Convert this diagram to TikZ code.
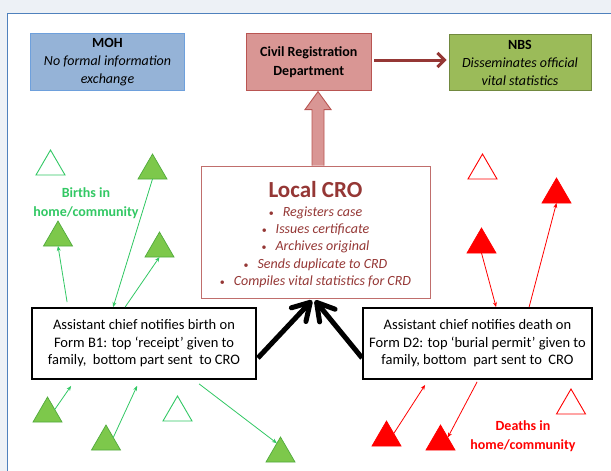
\documentclass[tikz,border=0pt]{standalone}
\usepackage{fontspec}
\setmainfont{Carlito}
\usetikzlibrary{arrows.meta,calc}
\definecolor{bgc}{RGB}{237,241,246}
\definecolor{framec}{RGB}{79,129,189}
\definecolor{mohfill}{RGB}{149,179,215}
\definecolor{mohdraw}{RGB}{110,160,220}
\definecolor{crdfill}{RGB}{217,150,148}
\definecolor{crddraw}{RGB}{185,85,82}
\definecolor{nbsfill}{RGB}{155,187,89}
\definecolor{nbsdraw}{RGB}{113,137,63}
\definecolor{darkred}{RGB}{149,55,53}
\definecolor{crodraw}{RGB}{192,110,108}
\definecolor{grn}{RGB}{50,200,100}
\definecolor{gfill}{RGB}{125,200,75}
\definecolor{gdraw}{RGB}{80,170,60}
\definecolor{rd}{RGB}{255,0,0}
\newcommand{\crobul}{{\fontsize{10}{10}\selectfont\upshape\textbullet}\hspace{9pt}}
\tikzset{
  tri/.pic={\path[pic actions] (-14.5,0) -- (0,-25) -- (14.5,0) -- cycle;
    \coordinate (-b) at (0,0);
    \coordinate (-r) at (7.25,-12.5);
    \coordinate (-ul) at (-3.6,-18.75);},
  gfull/.style={fill=gfill, draw=gdraw, line width=0.7pt},
  gopen/.style={fill=white, draw=grn, line width=0.9pt},
  rfull/.style={fill=rd, draw=rd, line width=0.7pt},
  ropen/.style={fill=white, draw=rd, line width=0.9pt},
  topbox/.style={draw, line width=0.9pt, inner sep=0pt, align=center,
    minimum height=57.4, font=\fontsize{14}{18}\selectfont},
  formbox/.style={draw=black, line width=1.8pt, fill=white, inner sep=0pt, align=center,
    minimum height=71, font=\fontsize{14.5}{17.5}\selectfont},
  garr/.style={draw=grn, line width=0.8pt, -{Stealth[length=5pt,width=4pt]}},
  rarr/.style={draw=rd, line width=0.8pt, -{Stealth[length=5pt,width=4pt]}},
  barr/.style={draw=black, line width=5pt, -{Straight Barb[length=17pt,width=20pt,round]}},
  lbl/.style={align=center, font=\fontsize{14}{19}\selectfont\bfseries},
}
\begin{document}
\begin{tikzpicture}[x=1pt,y=-1pt]
\useasboundingbox (0,0) rectangle (611,471);
\fill[bgc] (0,0) rectangle (611,471);
\fill[white] (7.3,13.5) rectangle (611,471);
\draw[framec, line width=1pt] (7.3,471) -- (7.3,13.5) -- (611,13.5);

% top boxes
\node[topbox, fill=mohfill, draw=mohdraw, minimum width=153.6] (moh) at (107.5,62)
  {\textbf{MOH}\\\textit{No formal information}\\\textit{exchange}};
\node[topbox, fill=crdfill, draw=crddraw, minimum width=125.7, font=\fontsize{14}{18.4}\selectfont\bfseries] (crd) at (308.8,62)
  {Civil Registration\\Department};
\node[topbox, fill=nbsfill, draw=nbsdraw, minimum width=142, minimum height=56.4] (nbs) at (520,62.5)
  {\textbf{NBS}\\\textit{Disseminates official}\\\textit{vital statistics}};
\draw[darkred, line width=3pt, -{Straight Barb[length=7pt,width=14pt]}] ($(crd.east)+(2,-2)$) -- ($(nbs.west)+(-2,-2.5)$);

% local CRO
\node[draw=crodraw, line width=0.9pt, fill=white, minimum width=229, minimum height=132, inner sep=0pt,
  align=center, text=darkred, font=\fontsize{14}{17.4}\selectfont\itshape] (cro) at (315.5,232)
  {\rule{0pt}{21pt}{\fontsize{23}{23}\selectfont\upshape\bfseries Local CRO}\\[1.5pt]
   \crobul Registers case\\
   \crobul Issues certificate\\
   \crobul Archives original\\
   \crobul Sends duplicate to CRD\\
   \crobul Compiles vital statistics for CRD};

% big up arrow CRO -> CRD
\coordinate (upb) at ($(cro.north)+(2.5,0)$);
\path[fill=crdfill, draw=crddraw, line width=0.9pt]
  ($(upb)+(-6,0)$) -- ($(upb)+(-6,-56)$) -- ($(upb)+(-13,-56)$) --
  ($(crd.south -| upb)+(0,0.5)$) -- ($(upb)+(13,-56)$) -- ($(upb)+(6,-56)$) --
  ($(upb)+(6,0)$);

% form boxes
\node[formbox, minimum width=224] (birth) at (144,343.5)
  {Assistant chief notifies birth on\\Form B1: top ‘receipt’ given to\\family,\ \ bottom part sent\ \ to CRO};
\node[formbox, minimum width=229] (death) at (477.5,343.5)
  {Assistant chief notifies death on\\Form D2: top ‘burial permit’ given to\\family, bottom\ \ part sent to\ \ CRO};

% black arrows
\coordinate (bs) at ($(birth.east)+(1,14.5)$);
\coordinate (ds) at ($(death.west)+(0,14.5)$);
\coordinate (bt) at ($(cro.south)+(-3.5,2)$);
\coordinate (dt) at ($(cro.south)+(-0.5,2)$);
\draw[barr] (bs) -- (bt);
\draw[barr] (ds) -- (dt);

% green triangles
\pic[gopen] (g1) at (50.5,175) {tri};
\pic[gfull] (g2) at (152.5,179) {tri};
\pic[gfull] (g3) at (58,246) {tri};
\pic[gfull] (g4) at (159.5,257) {tri};
\pic[gfull] (g5) at (47.5,422) {tri};
\pic[gfull] (g6) at (106,450) {tri};
\pic[gopen] (g7) at (177.5,421) {tri};
\pic[gfull] (g8) at (280.5,462) {tri};

% red triangles
\pic[ropen] (r1) at (482.5,179) {tri};
\pic[rfull] (r2) at (556.5,203) {tri};
\pic[rfull] (r3) at (481.5,253) {tri};
\pic[rfull] (r4) at (386.5,446) {tri};
\pic[rfull] (r5) at (440.5,450) {tri};
\pic[ropen] (r6) at (571,414) {tri};

% green connectors
\coordinate (ba) at ($(birth.north west)+(36,-5)$);
\coordinate (bb) at ($(birth.north west)+(82,0)$);
\coordinate (bc) at ($(birth.north west)+(94,0)$);
\coordinate (bd) at ($(birth.south west)+(40,6)$);
\coordinate (be) at ($(birth.south west)+(106,6)$);
\coordinate (bf) at ($(birth.south west)+(168,4)$);
\draw[garr] (ba) -- (g3-b);
\draw[garr] (g2-b) -- (bb);
\draw[garr] (bc) -- (g4-b);
\draw[garr] (g5-r) -- (bd);
\draw[garr] (g6-r) -- (be);
\draw[garr] (bf) -- (g8-ul);

% red connectors
\coordinate (da) at ($(death.north west)+(134,0)$);
\coordinate (db) at ($(death.north west)+(167,0)$);
\coordinate (dc) at ($(death.south west)+(63,5)$);
\coordinate (dd) at ($(death.south west)+(115,2)$);
\draw[rarr] (r3-b) -- (da);
\draw[rarr] (db) -- (r2-b);
\draw[rarr] (r4-r) -- (dc);
\draw[rarr] (dd) -- (r5-r);

% labels
\node[lbl, text=grn] (blbl) at (86,203.5) {Births in\\home/community};
\node[lbl, text=rd] (dlbl) at (523,436) {Deaths in\\home/community};
\end{tikzpicture}
\end{document}
